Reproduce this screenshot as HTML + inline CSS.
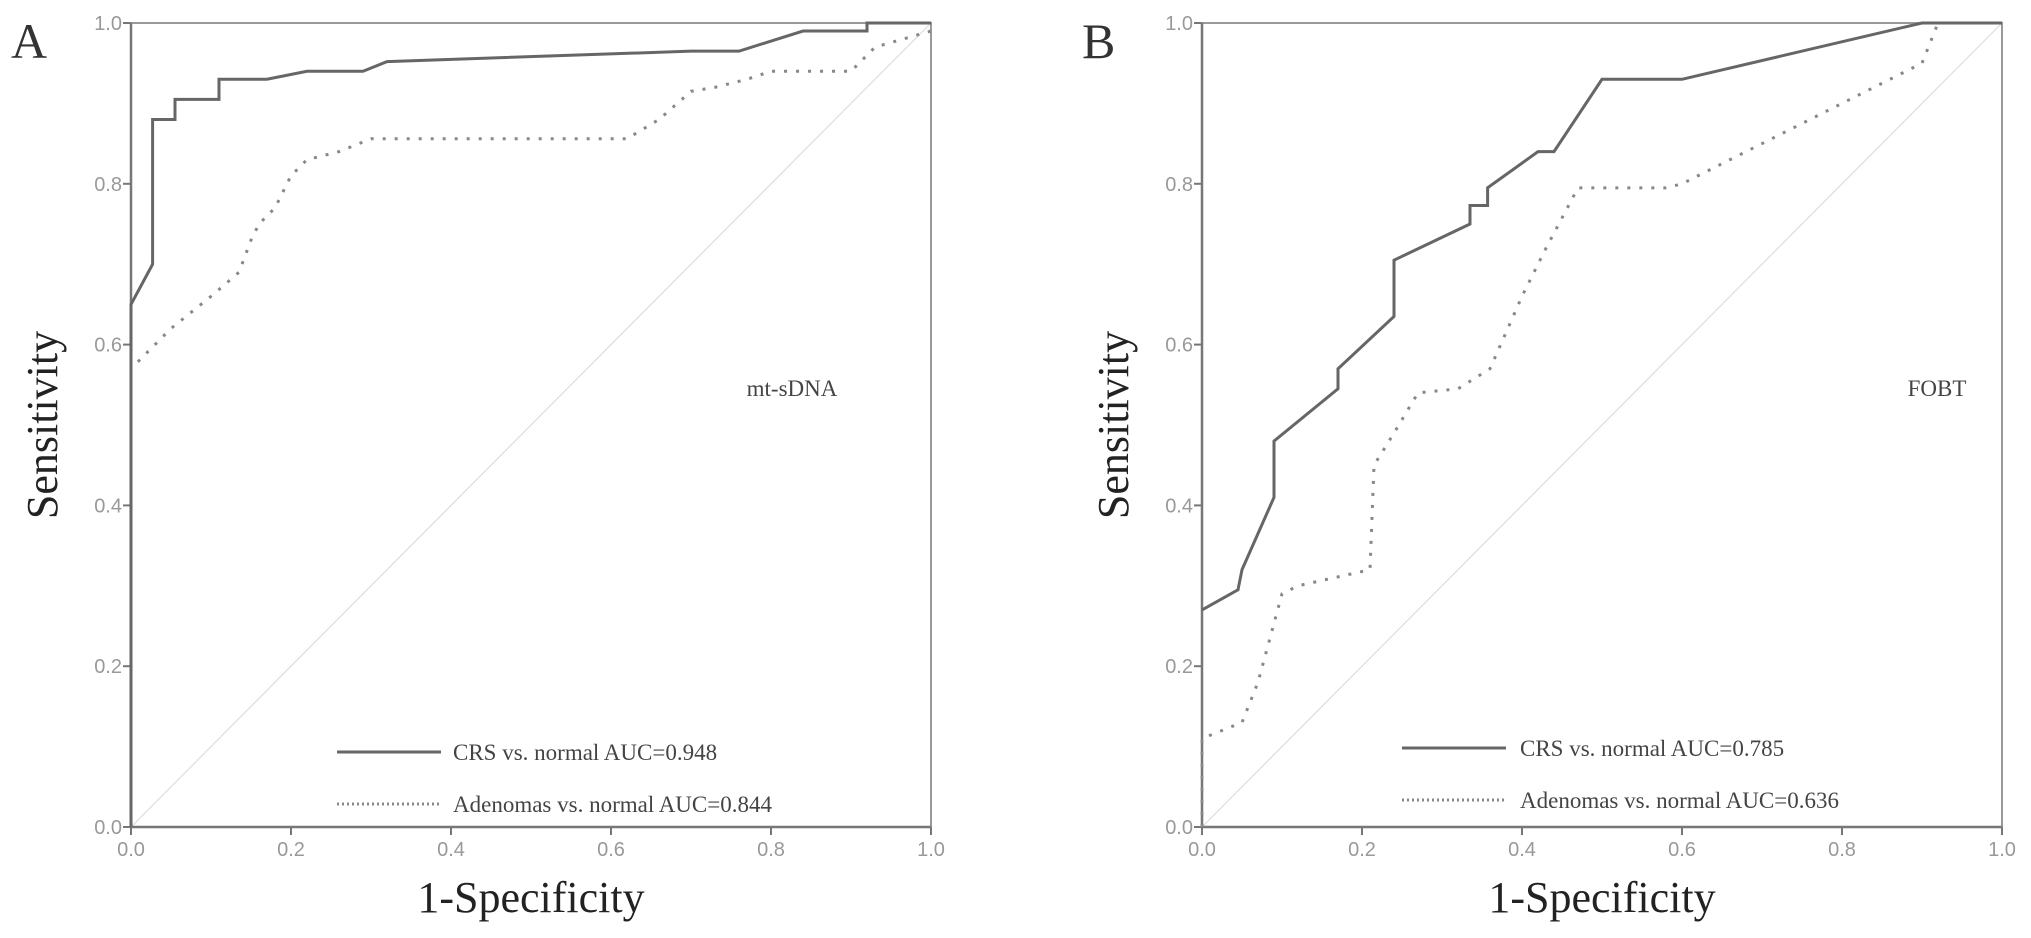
<!DOCTYPE html>
<html><head><meta charset="utf-8"><style>
html,body{margin:0;padding:0;background:#fff;}
svg{display:block;}
</style></head><body>
<svg id="chart" width="2031" height="938" xmlns="http://www.w3.org/2000/svg" font-family="Liberation Serif, serif"></svg>
<script>
const ticks = [0, 0.2, 0.4, 0.6, 0.8, 1.0];
const tickLabels = ["0.0","0.2","0.4","0.6","0.8","1.0"];
const aCrsX = [0,0,0.027,0.027,0.055,0.055,0.11,0.11,0.17,0.22,0.29,0.32,0.70,0.76,0.84,0.92,0.92,1.0];
const aCrsY = [0,0.65,0.70,0.88,0.88,0.905,0.905,0.93,0.93,0.94,0.94,0.952,0.965,0.965,0.99,0.99,1.0,1.0];
const aAdeX = [0,0,0.05,0.10,0.135,0.15,0.16,0.18,0.20,0.22,0.26,0.30,0.62,0.66,0.70,0.73,0.77,0.80,0.90,0.93,1.0];
const aAdeY = [0,0.57,0.62,0.66,0.69,0.73,0.75,0.77,0.81,0.83,0.84,0.856,0.856,0.88,0.915,0.92,0.93,0.94,0.94,0.97,0.99];
const bCrsX = [0,0.045,0.05,0.09,0.09,0.17,0.17,0.24,0.24,0.335,0.335,0.357,0.357,0.42,0.44,0.50,0.60,0.90,1.0];
const bCrsY = [0.27,0.295,0.32,0.41,0.48,0.545,0.57,0.635,0.705,0.75,0.773,0.773,0.795,0.84,0.84,0.93,0.93,1.0,1.0];
const bAdeX = [0,0,0.05,0.07,0.10,0.12,0.21,0.215,0.24,0.27,0.32,0.36,0.40,0.43,0.47,0.58,0.60,0.90,0.92,1.0];
const bAdeY = [0,0.11,0.13,0.18,0.29,0.30,0.32,0.45,0.49,0.54,0.545,0.57,0.66,0.72,0.795,0.795,0.80,0.95,1.0,1.0];

const NS = "http://www.w3.org/2000/svg";
const svg = document.getElementById('chart');
function mk(tag, attrs, parent){const e=document.createElementNS(NS,tag);for(const k in attrs)e.setAttribute(k,attrs[k]);(parent||svg).appendChild(e);return e;}

function panel(id, x0, x1, letter, label, labelX, xs1, ys1, xs2, ys2, leg, legX, legTextX, legY, auc1, auc2){
  const yT=23, yB=827;
  const sx=v=>x0+v*(x1-x0), sy=v=>yB-v*(yB-yT);
  const g=mk('g',{});
  
  
  const diag=mk('line',{x1:sx(0),y1:sy(0),x2:sx(1),y2:sy(1),stroke:'#ddd','stroke-width':1.2},g);
  
  
  const fr=mk('path',{d:`M${x0},${yT}H${x1}V${yB}`,fill:'none',stroke:'#999','stroke-width':2},g);
  
  
  const ax=mk('path',{d:`M${x0},${yT}V${yB}H${x1}`,fill:'none',stroke:'#777','stroke-width':2.5},g);
  
  
  ticks.forEach((t,i)=>{
    mk('line',{x1:x0-8,x2:x0,y1:sy(t),y2:sy(t),stroke:'#777','stroke-width':2},g);
    mk('line',{x1:sx(t),x2:sx(t),y1:yB,y2:yB+8,stroke:'#777','stroke-width':2},g);
    const yl=mk('text',{x:x0-9,y:sy(t)+7,'text-anchor':'end','font-size':20,fill:'#999','font-family':'Liberation Sans, sans-serif'},g);
    yl.textContent=tickLabels[i];
    
    
    const xl=mk('text',{x:sx(t),y:yB+29,'text-anchor':'middle','font-size':20,fill:'#999','font-family':'Liberation Sans, sans-serif'},g);
    xl.textContent=tickLabels[i];
    
    
  });
  const p2=mk('polyline',{points:xs2.map((v,i)=>sx(v)+','+sy(ys2[i])).join(' '),fill:'none',stroke:'#888','stroke-width':3,'stroke-dasharray':'3 9'},g);
  
  
  const p1=mk('polyline',{points:xs1.map((v,i)=>sx(v)+','+sy(ys1[i])).join(' '),fill:'none',stroke:'#666','stroke-width':3},g);
  
  
  const L=mk('text',{x:x0-120,y:58,'font-size':50,fill:'#333'},g);L.textContent=letter;
  
  
  const xt=mk('text',{x:(x0+x1)/2,y:912,'text-anchor':'middle','font-size':44,fill:'#222'},g);xt.textContent='1-Specificity';
  
  
  const yt=mk('text',{x:0,y:0,'text-anchor':'middle','font-size':44,fill:'#222',transform:`translate(${x0-74},${(yT+yB)/2}) rotate(-90)`},g);yt.textContent='Sensitivity';
  
  
  const an=mk('text',{x:labelX,y:396,'text-anchor':'middle','font-size':23,fill:'#444'},g);an.textContent=label;
  
  
  const l1=mk('line',{x1:legX,x2:legX+104,y1:legY,y2:legY,stroke:'#666','stroke-width':3},g);
  
  
  const t1=mk('text',{x:legTextX,y:legY+8,'font-size':23,fill:'#444'},g);t1.textContent='CRS vs. normal AUC='+auc1;
  
  
  const l2=mk('line',{x1:legX,x2:legX+104,y1:legY+52,y2:legY+52,stroke:'#888','stroke-width':3,'stroke-dasharray':'2 3'},g);
  
  
  const t2=mk('text',{x:legTextX,y:legY+60,'font-size':23,fill:'#444'},g);t2.textContent='Adenomas vs. normal AUC='+auc2;
  
  
}
panel('panel-a-mt-sdna',131,931,'A','mt-sDNA',792,aCrsX,aCrsY,aAdeX,aAdeY,null,337,453,752,'0.948','0.844');
panel('panel-b-fobt',1202,2002,'B','FOBT',1937,bCrsX,bCrsY,bAdeX,bAdeY,null,1402,1520,748,'0.785','0.636');
</script>
</body></html>
